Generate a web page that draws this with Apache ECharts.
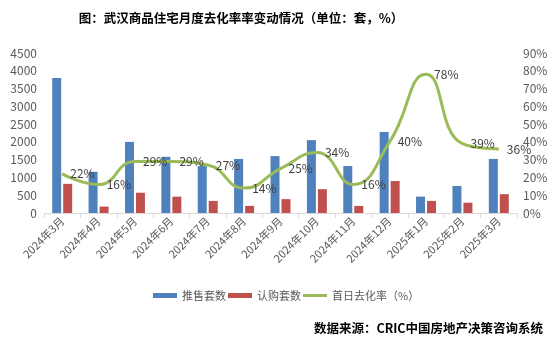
<!DOCTYPE html>
<html><head><meta charset="utf-8">
<script src="https://cdn.jsdelivr.net/npm/echarts@6/dist/echarts.min.js"></script>
<style>html,body{margin:0;padding:0;background:#fff}#c{width:560px;height:339px}</style>
</head><body><div id="c"></div>
<script>
var categories = ['2024年3月','2024年4月','2024年5月','2024年6月','2024年7月','2024年8月','2024年9月','2024年10月','2024年11月','2024年12月','2025年1月','2025年2月','2025年3月'];
var supply = [3800,1160,2000,1580,1320,1520,1600,2050,1320,2280,460,760,1520];
var subscribe = [820,180,570,460,340,200,390,670,200,900,340,290,530];
var rate = [22,16,29,29,27,14,25,34,16,40,78,39,36];
var leftTicks = [0,4500,500];
var rightTicks = [0,90,10];

var font = '"Noto Sans CJK SC", "Microsoft YaHei", sans-serif';
var chart = echarts.init(document.getElementById('c'));
chart.setOption({
  animation: false,
  textStyle: {fontFamily: font},
  title: [
    {text: '图：武汉商品住宅月度去化率率变动情况（单位：套，%）', left: 236, top: 7, textAlign: 'center',
     textStyle: {fontSize: 12.5, fontWeight: 'bold', color: '#000', fontFamily: font}},
    {text: '数据来源：CRIC中国房地产决策咨询系统', right: 12, top: 317,
     textStyle: {fontSize: 12.5, fontWeight: 'bold', color: '#000', fontFamily: font}}
  ],
  legend: {
    top: 285, left: 148, itemWidth: 24, itemHeight: 5, itemGap: 2,
    textStyle: {fontSize: 11, color: '#595959', fontFamily: font},
    data: [{name: '推售套数', icon: 'rect'}, {name: '认购套数', icon: 'rect'},
           {name: '首日去化率（%）', icon: 'path://M0,0H24V3H0Z'}]
  },
  grid: {left: 44, right: 43, top: 53, bottom: 126},
  xAxis: {
    type: 'category', data: categories,
    axisLine: {lineStyle: {color: '#D9D9D9'}},
    axisTick: {show: true, alignWithLabel: false, lineStyle: {color: '#D9D9D9'}, length: 5},
    axisLabel: {rotate: 45, fontSize: 11, color: '#595959', interval: 0, margin: 6, fontFamily: font}
  },
  yAxis: [
    {type: 'value', min: leftTicks[0], max: leftTicks[1], interval: leftTicks[2],
     splitLine: {show: false}, axisLine: {show: false}, axisTick: {show: false},
     axisLabel: {fontSize: 12, color: '#595959', margin: 7, fontFamily: font, formatter: function (v) { return String(v); }}},
    {type: 'value', min: rightTicks[0], max: rightTicks[1], interval: rightTicks[2],
     splitLine: {show: false}, axisLine: {show: false}, axisTick: {show: false},
     axisLabel: {fontSize: 12, color: '#595959', margin: 6, formatter: '{value}%', fontFamily: font}}
  ],
  series: [
    {name: '推售套数', type: 'bar', data: supply, barWidth: 9, barGap: '22%',
     itemStyle: {color: '#4F81BD'}},
    {name: '认购套数', type: 'bar', data: subscribe, barWidth: 9,
     itemStyle: {color: '#C0504D'}},
    {name: '首日去化率（%）', type: 'line', yAxisIndex: 1, data: rate, smooth: 0.5,
     symbol: 'circle', symbolSize: 0.1, showSymbol: true,
     lineStyle: {color: '#9BBB59', width: 3}, itemStyle: {color: '#9BBB59'},
     label: {show: true, position: 'right', distance: 8, formatter: '{c}%', fontSize: 12, color: '#404040', fontFamily: font},
     z: 5}
  ]
});
</script></body></html>
